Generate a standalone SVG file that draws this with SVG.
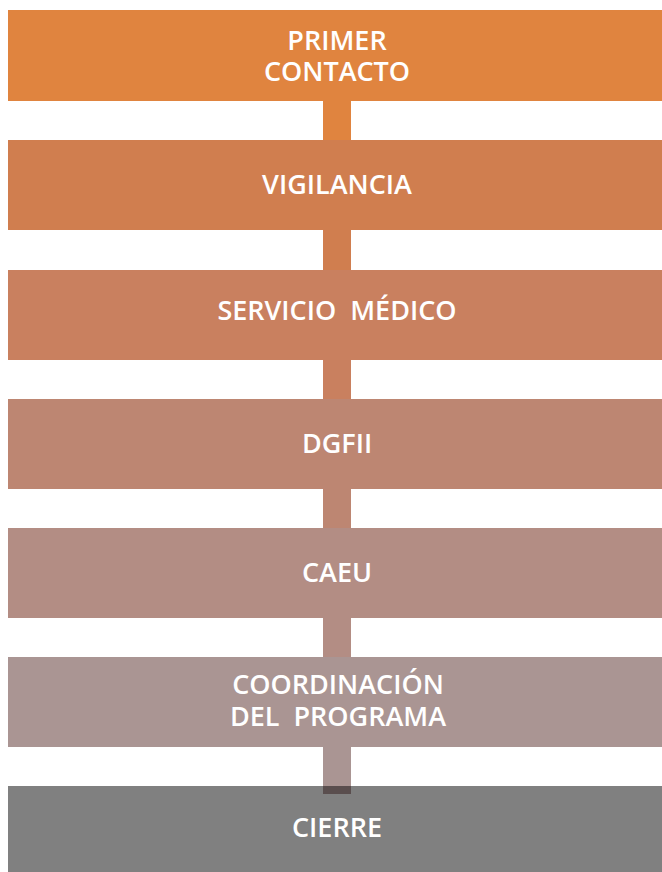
<svg xmlns="http://www.w3.org/2000/svg" width="662" height="872" viewBox="0 0 662 872">
<style>
text{font-family:"Open Sans","Liberation Sans",sans-serif;fill:#fff;text-anchor:middle;font-size:27px;font-weight:600}
</style>
<rect width="662" height="872" fill="#fff"/>
<g id="connectors">
<rect x="323" y="100" width="28" height="40" fill="#E0843F"/>
<rect x="323" y="230" width="28" height="40" fill="#D07E4F"/>
<rect x="323" y="360" width="28" height="39" fill="#C9805F"/>
<rect x="323" y="489" width="28" height="39" fill="#BD8672"/>
<rect x="323" y="618" width="28" height="39" fill="#B38D84"/>
<rect x="323" y="747" width="28" height="39" fill="#AA9593"/>
</g>
<g id="n1"><rect x="8" y="10" width="654" height="91" fill="#E0843F"/><text x="337" y="50">PRIMER</text><text x="337" y="81">CONTACTO</text></g>
<g id="n2"><rect x="8" y="140" width="654" height="90" fill="#D07E4F"/><text x="337" y="194">VIGILANCIA</text></g>
<g id="n3"><rect x="8" y="270" width="654" height="90" fill="#C9805F"/><text x="337" y="320" xml:space="preserve">SERVICIO  MÉDICO</text></g>
<g id="n4"><rect x="8" y="399" width="654" height="90" fill="#BD8672"/><text x="337" y="453">DGFII</text></g>
<g id="n5"><rect x="8" y="528" width="654" height="90" fill="#B38D84"/><text x="337" y="582">CAEU</text></g>
<g id="n6"><rect x="8" y="657" width="654" height="90" fill="#AA9593"/><text x="338" y="694">COORDINACIÓN</text><text x="338" y="726" xml:space="preserve">DEL  PROGRAMA</text></g>
<g id="n7"><rect x="8" y="786" width="654" height="86" fill="#808080"/><rect x="323" y="786" width="28" height="8" fill="#5A4E4E"/><text x="337" y="837">CIERRE</text></g>
</svg>
